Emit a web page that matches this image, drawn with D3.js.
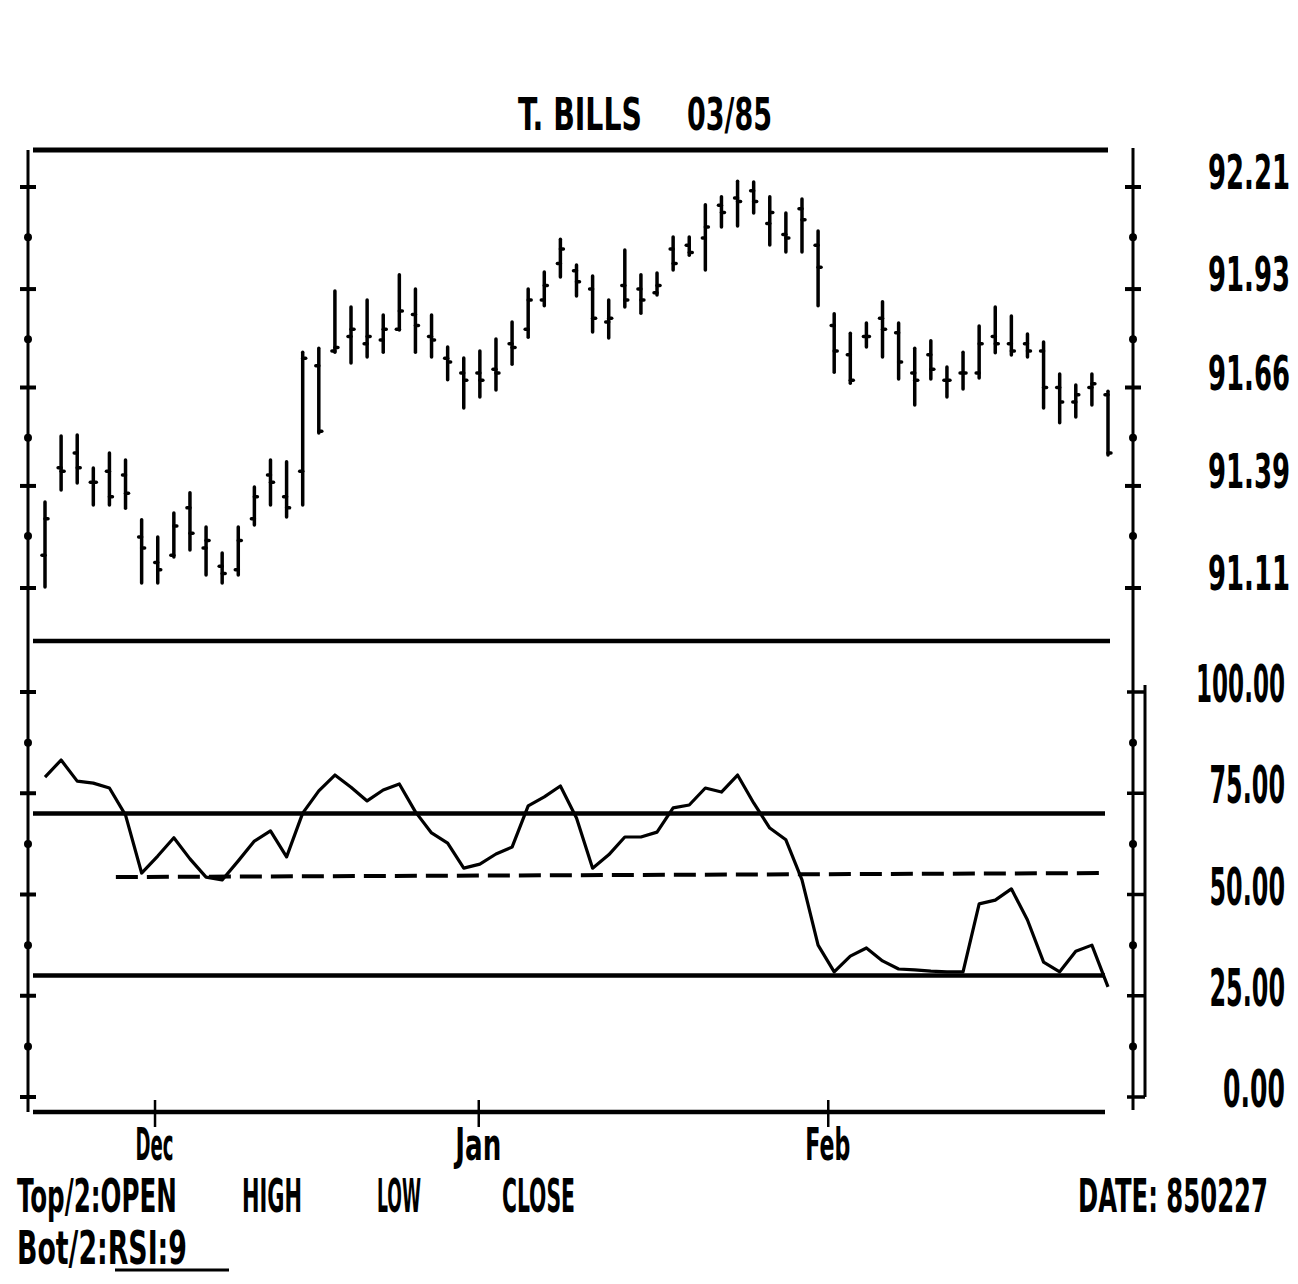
<!DOCTYPE html>
<html><head><meta charset="utf-8">
<script src="https://cdn.jsdelivr.net/npm/d3@7"></script>
<style>body{margin:0;background:#fff}</style>
</head><body>
<svg id="c" width="1298" height="1284"></svg>
<script>
// ---- data ----
const highs=[91.346,91.527,91.530,91.439,91.480,91.461,91.297,91.250,91.316,91.371,91.277,91.206,91.277,91.387,91.461,91.456,
91.757,91.768,91.925,91.881,91.900,91.859,91.969,91.930,91.859,91.771,91.741,91.760,91.793,91.840,91.930,91.977,92.067,91.996,
91.966,91.900,92.037,91.969,91.974,92.073,92.073,92.161,92.183,92.226,92.224,92.183,92.139,92.177,92.089,91.862,91.809,91.837,
91.895,91.837,91.768,91.788,91.716,91.757,91.829,91.881,91.856,91.807,91.785,91.697,91.667,91.697,91.650];
const lows=[91.113,91.379,91.398,91.338,91.338,91.329,91.124,91.124,91.195,91.214,91.146,91.124,91.146,91.283,91.338,91.305,
91.338,91.535,91.757,91.727,91.744,91.757,91.818,91.757,91.744,91.681,91.604,91.634,91.653,91.724,91.798,91.884,91.963,91.911,
91.812,91.796,91.881,91.864,91.914,91.982,92.023,91.982,92.100,92.103,92.139,92.051,92.032,92.032,91.884,91.702,91.672,91.771,
91.744,91.683,91.612,91.683,91.634,91.656,91.686,91.755,91.749,91.744,91.604,91.563,91.579,91.612,91.475];
const opens=[91.20,91.44,91.48,91.40,91.43,91.42,91.25,91.18,91.20,91.33,91.22,91.17,91.16,91.30,91.42,91.36,
91.43,91.72,91.76,91.80,91.78,91.79,91.82,91.86,91.80,91.74,91.70,91.70,91.71,91.78,91.82,91.90,92.00,91.98,
91.93,91.84,91.94,91.93,91.92,92.04,92.05,92.07,92.16,92.18,92.20,92.11,92.08,92.15,92.05,91.83,91.75,91.80,
91.85,91.81,91.70,91.75,91.68,91.70,91.70,91.80,91.78,91.78,91.76,91.66,91.62,91.66,91.64];
const closes=[91.30,91.43,91.44,91.40,91.36,91.37,91.22,91.16,91.28,91.26,91.24,91.15,91.24,91.36,91.40,91.33,
91.74,91.54,91.77,91.82,91.80,91.82,91.87,91.83,91.79,91.73,91.68,91.68,91.70,91.77,91.90,91.94,92.04,91.95,
91.85,91.85,91.90,91.90,91.94,92.00,92.03,92.10,92.14,92.17,92.17,92.14,92.07,92.12,91.99,91.76,91.68,91.80,
91.82,91.73,91.68,91.71,91.68,91.70,91.78,91.78,91.76,91.76,91.66,91.62,91.64,91.67,91.48];
const rsi=[79.0,83.2,78.0,77.5,76.3,69.6,55.3,59.5,64.0,58.8,54.3,53.6,58.3,63.2,65.7,59.3,
70.1,75.6,79.5,76.5,73.1,75.8,77.3,70.4,65.2,62.7,56.5,57.5,60.0,61.7,71.9,74.1,76.8,68.9,
56.5,59.8,64.2,64.2,65.4,71.4,72.1,76.3,75.3,79.5,72.6,66.4,63.5,53.6,37.5,30.9,34.8,36.8,
33.6,31.6,31.4,31.1,30.9,30.9,47.7,48.6,51.4,43.7,33.3,30.9,36.0,37.5,27.2];
const priceTicks=[92.21,91.93,91.66,91.39,91.11];
const rsiTicks=[100,75,50,25,0];
const rsiBands=[70,30];
const rsiAvgIdx=[4.4,65.8];
const rsiAvgVal=[54.3,55.3];
const months=["Dec","Jan","Feb"];
const monthPos=[6.8,26.9,48.6];
const title1="T. BILLS", title2="03/85";
const legendTop=["Top/2:OPEN","HIGH","LOW","CLOSE"];
const legendBot="Bot/2:RSI:9";
const dateText="DATE: 850227";

// ---- drawing ----
const svg=d3.select("#c");
const FONT='"Liberation Sans Narrow","DejaVu Sans Condensed","Liberation Sans",sans-serif';
const x=d3.scaleLinear().domain([0,highs.length-1]).range([45,1108]);
const yP=d3.scaleLinear().domain([91.11,92.21]).range([588,187]);
const yR=d3.scaleLinear().domain([0,100]).range([1097,692]);

// condensed text: natural glyphs squeezed horizontally to a given width
function txt(s,px,py,size,len,anchor,parent){
  const t=(parent||svg).append("text").text(s).attr("x",0).attr("y",0)
    .attr("font-family",FONT).attr("font-weight","bold").attr("font-size",size)
    .attr("text-anchor",anchor||"start").attr("fill","#000");
  const w=t.node().getComputedTextLength()||len;
  t.attr("transform",`translate(${px},${py}) scale(${len/w},1)`);
  return t;
}
function hline(x1,x2,yy,w){svg.append("line").attr("x1",x1).attr("x2",x2).attr("y1",yy).attr("y2",yy).attr("stroke","#000").attr("stroke-width",w);}
function vline(xx,y1,y2,w){svg.append("line").attr("x1",xx).attr("x2",xx).attr("y1",y1).attr("y2",y2).attr("stroke","#000").attr("stroke-width",w);}

// frame
hline(33,1108,150,5);
hline(33,1110,641,4.5);
vline(28,150,1112,3);
vline(1133,148,1110,3);

// axis tick marks (bars at labelled values, dots between)
const priceStep=(priceTicks[0]-priceTicks[priceTicks.length-1])/(priceTicks.length-1);
const priceMarks=[];
priceTicks.forEach((v,i)=>{priceMarks.push({v,bar:true}); if(i<priceTicks.length-1) priceMarks.push({v:v-priceStep/2,bar:false});});
const rsiMarks=d3.range(0,100.01,12.5).map(v=>({v,bar:v%25===0}));
[28,1133].forEach(ax=>{
  priceMarks.forEach(m=>{
    if(m.bar) hline(ax-8,ax+8,yP(m.v),4);
    else svg.append("circle").attr("cx",ax).attr("cy",yP(m.v)).attr("r",4).attr("fill","#000");
  });
});
rsiMarks.forEach(m=>{
  if(m.bar) hline(20,36,yR(m.v),4);
  else svg.append("circle").attr("cx",28).attr("cy",yR(m.v)).attr("r",4).attr("fill","#000");
});
// right RSI gauge rails
vline(1145,yR(100)-7,yR(0),3);
rsiMarks.forEach(m=>{
  if(m.bar) hline(1127,1145,yR(m.v),3.5);
  else svg.append("circle").attr("cx",1133).attr("cy",yR(m.v)).attr("r",4).attr("fill","#000");
});

// price bars
const bars=svg.append("g").attr("stroke","#000").attr("stroke-width",3.5).attr("stroke-linecap","round");
highs.forEach((h,i)=>{
  bars.append("line").attr("x1",x(i)).attr("x2",x(i)).attr("y1",yP(h)).attr("y2",yP(lows[i]));
  bars.append("line").attr("x1",x(i)-3).attr("x2",x(i)).attr("y1",yP(opens[i])).attr("y2",yP(opens[i]));
  bars.append("line").attr("x1",x(i)).attr("x2",x(i)+3).attr("y1",yP(closes[i])).attr("y2",yP(closes[i]));
});

// RSI bands
rsiBands.forEach(b=>hline(33,1105,yR(b),4.5));
svg.append("line").attr("x1",x(rsiAvgIdx[0])).attr("x2",x(rsiAvgIdx[1]))
  .attr("y1",yR(rsiAvgVal[0])).attr("y2",yR(rsiAvgVal[1]))
  .attr("stroke","#000").attr("stroke-width",4).attr("stroke-dasharray","22,9");
// RSI line
svg.append("path").datum(rsi)
  .attr("d",d3.line().x((d,i)=>x(i)).y(d=>yR(d)))
  .attr("fill","none").attr("stroke","#000").attr("stroke-width",3.2).attr("stroke-linejoin","round");

// x axis
hline(33,1105,1112,4.5);
const xAxis=d3.axisBottom(x).tickValues(monthPos).tickFormat("").tickSizeInner(15).tickSizeOuter(0);
const gx=svg.append("g").attr("transform","translate(0,1112)").call(xAxis);
gx.select(".domain").remove();
gx.selectAll(".tick line").attr("y1",-12).attr("stroke","#000").attr("stroke-width",2.5);
gx.selectAll(".tick text").remove();
const monthW=[38,46,45];
monthPos.forEach((p,i)=>txt(months[i],x(p),1160,44,monthW[i],"middle"));

// labels
txt(title1,518,130,44,124);
txt(title2,687,130,44,85);
priceTicks.forEach(v=>txt(v.toFixed(2),1290,yP(v)+2,48,82,"end"));
rsiTicks.forEach(v=>{const s=v.toFixed(2); txt(s,1285,yR(v)+10,52,13.5*s.length+8,"end");});
txt(legendTop[0],17,1212,46,160);
txt(legendTop[1],242,1212,46,60);
txt(legendTop[2],377,1212,46,44);
txt(legendTop[3],502,1212,46,73);
txt(dateText,1078,1212,46,190);
txt(legendBot,17,1264,46,170);
hline(115,229,1270,3);
</script>
</body></html>
